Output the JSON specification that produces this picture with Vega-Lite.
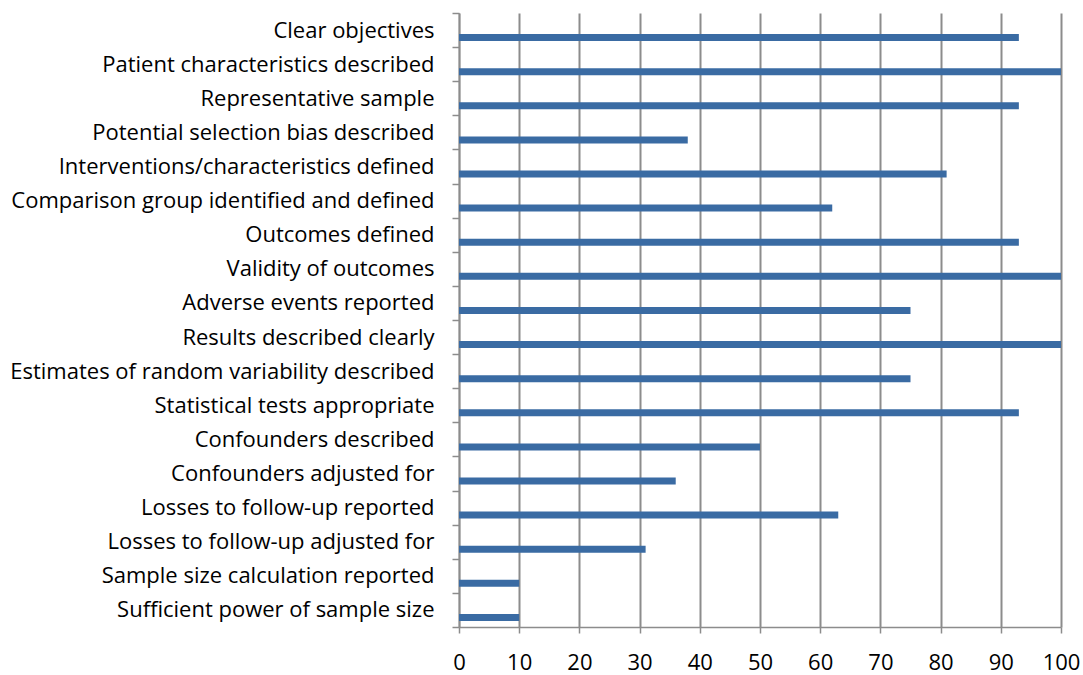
{
  "$schema": "https://vega.github.io/schema/vega-lite/v6.json",
  "width": 602,
  "height": 614,
  "autosize": "none",
  "padding": {"left": 459, "top": 13, "right": 22, "bottom": 48},
  "background": "white",
  "config": {"view": {"stroke": null}, "font": "Open Sans"},
  "data": {
    "values": [
      {"criterion": "Clear objectives", "pct": 93},
      {"criterion": "Patient characteristics described", "pct": 100},
      {"criterion": "Representative sample", "pct": 93},
      {"criterion": "Potential selection bias described", "pct": 38},
      {"criterion": "Interventions/characteristics defined", "pct": 81},
      {"criterion": "Comparison group identified and defined", "pct": 62},
      {"criterion": "Outcomes defined", "pct": 93},
      {"criterion": "Validity of outcomes", "pct": 100},
      {"criterion": "Adverse events reported", "pct": 75},
      {"criterion": "Results described clearly", "pct": 100},
      {"criterion": "Estimates of random variability described", "pct": 75},
      {"criterion": "Statistical tests appropriate", "pct": 93},
      {"criterion": "Confounders described", "pct": 50},
      {"criterion": "Confounders adjusted for", "pct": 36},
      {"criterion": "Losses to follow-up reported", "pct": 63},
      {"criterion": "Losses to follow-up adjusted for", "pct": 31},
      {"criterion": "Sample size calculation reported", "pct": 10},
      {"criterion": "Sufficient power of sample size", "pct": 10}
    ]
  },
  "mark": {"type": "bar", "color": "#3a6ba3", "height": 7, "yOffset": 7.5},
  "encoding": {
    "y": {
      "field": "criterion",
      "type": "nominal",
      "sort": null,
      "title": null,
      "scale": {"paddingInner": 0, "paddingOuter": 0},
      "axis": {
        "tickBand": "extent",
        "domainColor": "#8c8c8c",
        "domainWidth": 1.5,
        "tickColor": "#8c8c8c",
        "tickWidth": 1.5,
        "tickSize": 7,
        "labelFontSize": 22,
        "labelColor": "#000000",
        "labelPadding": 18,
        "labelLimit": 500,
        "grid": false
      }
    },
    "x": {
      "field": "pct",
      "type": "quantitative",
      "title": null,
      "scale": {"domain": [0, 100], "nice": false},
      "axis": {
        "values": [0, 10, 20, 30, 40, 50, 60, 70, 80, 90, 100],
        "grid": true,
        "gridColor": "#8c8c8c",
        "gridWidth": 2,
        "domainColor": "#8c8c8c",
        "domainWidth": 1.5,
        "tickColor": "#8c8c8c",
        "tickWidth": 1.5,
        "tickSize": 6,
        "labelFontSize": 22,
        "labelColor": "#000000",
        "labelPadding": 19,
        "labelFlush": false
      }
    }
  }
}
